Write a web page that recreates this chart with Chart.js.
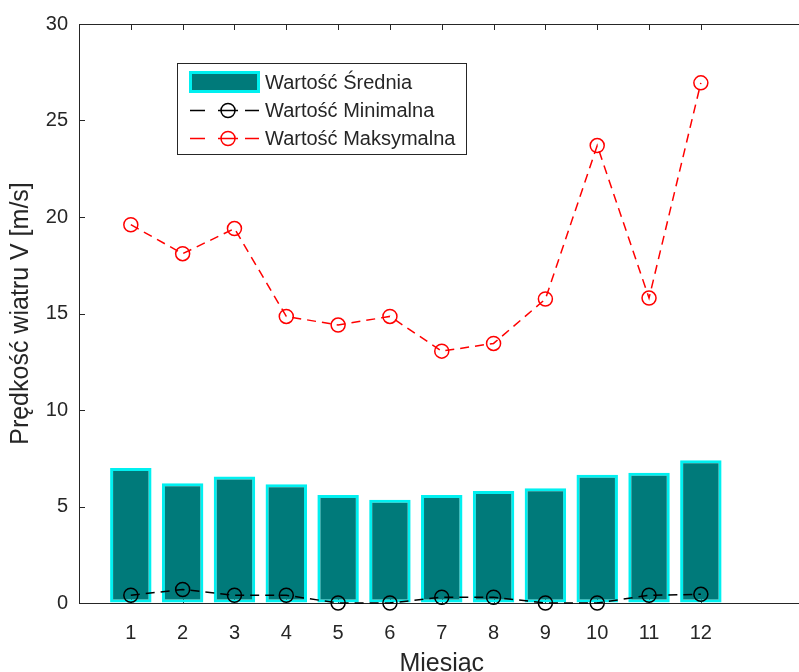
<!DOCTYPE html>
<html>
<head>
<meta charset="utf-8">
<script src="https://cdn.jsdelivr.net/npm/chart.js@4"></script>
<style>
  html, body { margin: 0; padding: 0; background: #fff; overflow: hidden; }
  canvas { display: block; }
</style>
</head>
<body>
<canvas id="chart" width="813" height="672"></canvas>
<script>
// Months and wind speeds [m/s]
const months = [1, 2, 3, 4, 5, 6, 7, 8, 9, 10, 11, 12];
const avgSpeed = [7.0, 6.2, 6.55, 6.15, 5.6, 5.35, 5.6, 5.8, 5.95, 6.65, 6.75, 7.4];
const minSpeed = [0.4, 0.7, 0.4, 0.4, 0, 0, 0.3, 0.3, 0, 0, 0.4, 0.45];
const maxSpeed = [19.6, 18.1, 19.4, 14.85, 14.4, 14.85, 13.05, 13.45, 15.75, 23.7, 15.8, 26.95];
const yTicks = [0, 5, 10, 15, 20, 25, 30];

const seriesNames = ['Wartość Średnia', 'Wartość Minimalna', 'Wartość Maksymalna'];

const axisColor = '#262626';
const fontFamily = '"Liberation Sans", Arial, Helvetica, sans-serif';

const toPoints = values => months.map((m, i) => ({ x: m, y: values[i] }));

// Inward tick marks and the top frame line
const frameTicks = {
    id: 'frameTicks',
    beforeDatasetsDraw(chart) {
        const { ctx, chartArea, scales } = chart;
        const len = 6;
        ctx.save();
        ctx.strokeStyle = axisColor;
        ctx.lineWidth = 1;
        ctx.beginPath();
        ctx.moveTo(chartArea.left, chartArea.top + 0.5);
        ctx.lineTo(chartArea.right, chartArea.top + 0.5);
        yTicks.forEach(v => {
            const y = Math.round(scales.y.getPixelForValue(v)) + 0.5;
            ctx.moveTo(chartArea.left, y);
            ctx.lineTo(chartArea.left + len, y);
        });
        months.forEach(m => {
            const x = Math.round(scales.x.getPixelForValue(m)) + 0.5;
            ctx.moveTo(x, chartArea.top);
            ctx.lineTo(x, chartArea.top + len);
            ctx.moveTo(x, chartArea.bottom);
            ctx.lineTo(x, chartArea.bottom - len);
        });
        ctx.stroke();
        ctx.restore();
    }
};

// Legend box inside the plot area
const boxLegend = {
    id: 'boxLegend',
    afterDraw(chart) {
        const { ctx } = chart;
        const bx = 177, by = 63, bw = 289, bh = 91;
        ctx.save();
        ctx.fillStyle = '#fff';
        ctx.fillRect(bx, by, bw, bh);
        ctx.strokeStyle = axisColor;
        ctx.lineWidth = 1;
        ctx.strokeRect(bx + 0.5, by + 0.5, bw, bh);

        const rows = [82, 110, 138];
        const ds = chart.data.datasets;
        ctx.font = '20px ' + fontFamily;
        ctx.textBaseline = 'middle';

        // bar swatch
        ctx.fillStyle = ds[0].borderColor;
        ctx.fillRect(189, rows[0] - 11, 71, 22);
        ctx.fillStyle = ds[0].backgroundColor;
        ctx.fillRect(192, rows[0] - 8, 65, 16);

        // line swatches
        [1, 2].forEach(k => {
            const y = rows[k] + 0.5;
            ctx.strokeStyle = ds[k].borderColor;
            ctx.lineWidth = 1.5;
            ctx.beginPath();
            ctx.moveTo(190, y); ctx.lineTo(205, y);
            ctx.moveTo(245, y); ctx.lineTo(259, y);
            ctx.moveTo(218, y); ctx.lineTo(238, y);
            ctx.stroke();
            ctx.beginPath();
            ctx.arc(228, y, 7, 0, Math.PI * 2);
            ctx.stroke();
        });

        ctx.fillStyle = axisColor;
        seriesNames.forEach((name, k) => ctx.fillText(name, 265, rows[k] + 1));
        ctx.restore();
    }
};

new Chart(document.getElementById('chart'), {
    type: 'bar',
    data: {
        datasets: [
            {
                label: seriesNames[0],
                data: toPoints(avgSpeed),
                backgroundColor: '#007a7a',
                borderColor: '#00f0f0',
                borderWidth: 3,
                borderSkipped: false,
                barPercentage: 0.8,
                categoryPercentage: 1.0,
                order: 3
            },
            {
                type: 'line',
                label: seriesNames[1],
                data: toPoints(minSpeed),
                borderColor: '#000',
                borderWidth: 1.5,
                borderDash: [9, 6],
                pointRadius: 7,
                pointBorderWidth: 1.5,
                pointBackgroundColor: 'rgba(0,0,0,0)',
                pointBorderColor: '#000',
                clip: false,
                order: 1
            },
            {
                type: 'line',
                label: seriesNames[2],
                data: toPoints(maxSpeed),
                borderColor: '#ff0000',
                borderWidth: 1.5,
                borderDash: [9, 6],
                pointRadius: 7,
                pointBorderWidth: 1.5,
                pointBackgroundColor: 'rgba(0,0,0,0)',
                pointBorderColor: '#ff0000',
                clip: false,
                order: 2
            }
        ]
    },
    options: {
        responsive: false,
        animation: false,
        events: [],
        layout: { padding: { top: 24, right: 0, left: 0, bottom: 0 } },
        plugins: {
            legend: { display: false },
            tooltip: { enabled: false }
        },
        scales: {
            x: {
                type: 'linear',
                min: 0,
                max: 14,
                offset: false,
                afterBuildTicks: scale => { scale.ticks = months.map(v => ({ value: v })); },
                afterFit: scale => { scale.height = 69; },
                grid: { drawOnChartArea: false, drawTicks: false },
                border: { color: axisColor, width: 1 },
                ticks: {
                    color: axisColor,
                    padding: 18,
                    maxRotation: 0,
                    font: { family: fontFamily, size: 20 }
                },
                title: {
                    display: true,
                    text: 'Miesiąc',
                    color: axisColor,
                    padding: { top: 0, bottom: -5 },
                    font: { family: fontFamily, size: 25, lineHeight: 1.0 }
                }
            },
            y: {
                min: 0,
                max: 30,
                afterBuildTicks: scale => { scale.ticks = yTicks.map(v => ({ value: v })); },
                afterFit: scale => { scale.width = 79; },
                grid: { drawOnChartArea: false, drawTicks: false },
                border: { color: axisColor, width: 1 },
                ticks: {
                    color: axisColor,
                    padding: 11,
                    font: { family: fontFamily, size: 20 }
                },
                title: {
                    display: true,
                    text: 'Prędkość wiatru V [m/s]',
                    color: axisColor,
                    padding: { top: 9, bottom: 0 },
                    font: { family: fontFamily, size: 25, lineHeight: 1.0 }
                }
            }
        }
    },
    plugins: [frameTicks, boxLegend]
});
</script>
</body>
</html>
